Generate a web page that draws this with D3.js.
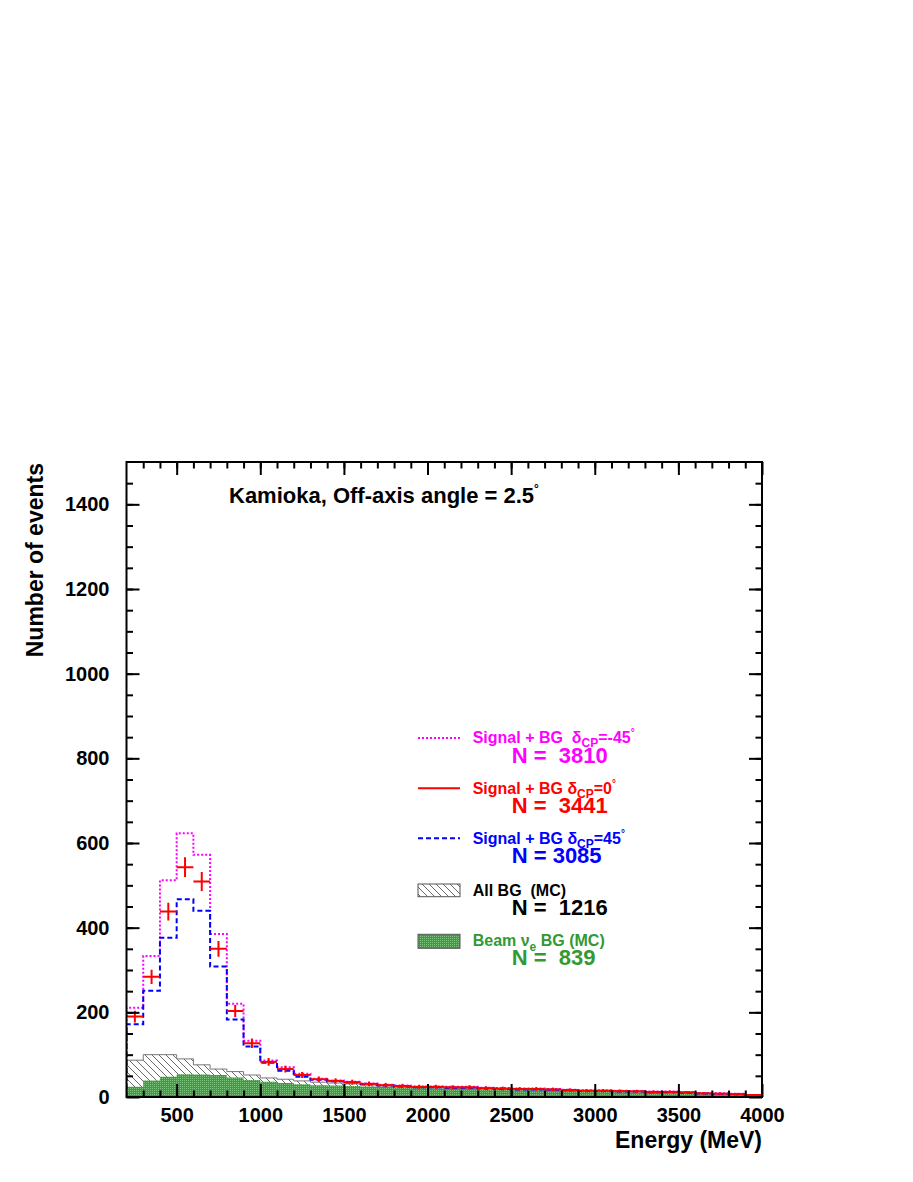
<!DOCTYPE html>
<html><head><meta charset="utf-8">
<script src="https://cdn.jsdelivr.net/npm/d3@7"></script>
<style>
body{margin:0;background:#fff}
text{font-family:"Liberation Sans",Arial,Helvetica,sans-serif;font-weight:bold;white-space:pre}
</style>
</head><body>
<svg id="c" width="913" height="1182"></svg>
<script>
// ---- data (bins of 100 MeV, low edges) ----
const binLow = [200,300,400,500,600,700,800,900,1000,1100,1200,1300,1400,1500,1600,1700,1800,1900,
  2000,2100,2200,2300,2400,2500,2600,2700,2800,2900,3000,3100,3200,3300,3400,3500,3600,3700,3800,3900];
const binWidth = 100;
const sigM45 = [211,333,512,623,572,385,220,133,86,70,55, 43,39,36,32,29,27,25, 25,24,24,22,21,20,20,19,17,16, 16,15,14,13,13,12,9.5,9,7.5,5];
const sigCP0 = [190,284,438,543,509,350,203,127,83,66,52, 42,38,35,31,28,26,24, 24,23,23,21,20,19,19,18,16.5,15, 15,14,13.5,12,12,11,8.7,8,7,4.7];
const sigP45 = [172,251,376,467,440,308,183,119,81,62,48, 41,37,34,30,27,25,23, 23,22,22,20,19,18,18,17,16,14, 14,13,13,11,11,10,8,7,6.5,4.5];
const allBG  = [87,100,100,90,76,66,60,52,45, 42,38,35,33,31,28,26,24,22, 21,20,20,19,18,17,17,16,15,14, 13,12,12,11,10,9,8,7,6,4];
const beamNueBG = [24,39,48,54,53,52,46,40,36, 33,30,28,27,26,25,24,23,22, 20,19,19,18,17,16,16,15,14,13, 12,12,11,10,9,8,7,6,5,3];
const xTickLabels = [500,1000,1500,2000,2500,3000,3500,4000];
const yTickLabels = [0,200,400,600,800,1000,1200,1400];
const legendTotals = ["3810","3441","3085","1216","839"];

// ---- layout ----
const L = 126.5, R = 762, T = 462, B = 1097;
const svg = d3.select("#c");
const x = d3.scaleLinear().domain([200,4000]).range([L,R]);
const y = d3.scaleLinear().domain([0,1500]).range([B,T]);

const defs = svg.append("defs");
const hp = defs.append("pattern").attr("id","hatch").attr("patternUnits","userSpaceOnUse")
  .attr("width",7).attr("height",7);
hp.append("path").attr("d","M0,0L7,7M-1,6L1,8M6,-1L8,1").attr("stroke","#444").attr("stroke-width",0.8);
const gp = defs.append("pattern").attr("id","green").attr("patternUnits","userSpaceOnUse")
  .attr("width",2).attr("height",2);
gp.append("rect").attr("width",2).attr("height",2).attr("fill","#3f9c3f");
gp.append("rect").attr("width",1).attr("height",1).attr("fill","#7cc47c");
defs.append("clipPath").attr("id","clip").append("rect")
  .attr("x",L).attr("y",T).attr("width",R-L).attr("height",B-T);

function stepPts(vals){
  const pts = [[binLow[0],0]];
  vals.forEach((v,i)=>{pts.push([binLow[i],v]);pts.push([binLow[i]+binWidth,v]);});
  pts.push([binLow[binLow.length-1]+binWidth,0]);
  return pts;
}
const line = d3.line().x(d=>x(d[0])).y(d=>y(d[1]));
const area = d3.area().x(d=>x(d[0])).y0(y(0)).y1(d=>y(d[1]));

const plot = svg.append("g").attr("clip-path","url(#clip)");
// All BG hatched
plot.append("path").attr("d",area(stepPts(allBG))).attr("fill","url(#hatch)");
plot.append("path").attr("d",line(stepPts(allBG))).attr("fill","none").attr("stroke","#777").attr("stroke-width",1);
// beam nue BG green
plot.append("path").attr("d",area(stepPts(beamNueBG))).attr("fill","url(#green)");
// signal + BG curves
plot.append("path").attr("d",line(stepPts(sigM45))).attr("fill","none")
  .attr("stroke","#ff00ff").attr("stroke-width",2).attr("stroke-dasharray","2,2");
plot.append("path").attr("d",line(stepPts(sigP45))).attr("fill","none")
  .attr("stroke","#0000ff").attr("stroke-width",2).attr("stroke-dasharray","5,3");
// red crosses
const eb = plot.append("g").attr("stroke","#ff0000").attr("stroke-width",2);
sigCP0.forEach((v,i)=>{
  eb.append("line").attr("x1",x(binLow[i])).attr("x2",x(binLow[i]+binWidth)).attr("y1",y(v)).attr("y2",y(v));
  eb.append("line").attr("x1",x(binLow[i]+binWidth/2)).attr("x2",x(binLow[i]+binWidth/2))
    .attr("y1",y(v-Math.sqrt(v))).attr("y2",y(v+Math.sqrt(v)));
});

// ---- axes ----
const minorX = binLow.slice(1);
const minorY = d3.range(50,1500,50);
function styleAxis(g){g.select(".domain").remove();g.selectAll("line").attr("stroke","#000").attr("stroke-width",2);}
svg.append("g").attr("transform",`translate(0,${B})`)
  .call(d3.axisBottom(x).tickValues(minorX).tickSize(-6.5).tickFormat("")).call(styleAxis);
svg.append("g").attr("transform",`translate(0,${B})`)
  .call(d3.axisBottom(x).tickValues(xTickLabels).tickSize(-13).tickPadding(10.5).tickFormat(d3.format("d")))
  .call(styleAxis).selectAll("text").attr("font-size",20).attr("fill","#000")
  .style("font-family",'"Liberation Sans",Arial,sans-serif').style("font-weight","bold");
svg.append("g").attr("transform",`translate(0,${T})`)
  .call(d3.axisTop(x).tickValues(minorX).tickSize(-6.5).tickFormat("")).call(styleAxis);
svg.append("g").attr("transform",`translate(0,${T})`)
  .call(d3.axisTop(x).tickValues(xTickLabels).tickSize(-13).tickFormat("")).call(styleAxis);
svg.append("g").attr("transform",`translate(${L},0)`)
  .call(d3.axisLeft(y).tickValues(minorY).tickSize(-6.5).tickFormat("")).call(styleAxis);
svg.append("g").attr("transform",`translate(${L},0)`)
  .call(d3.axisLeft(y).tickValues(yTickLabels).tickSize(-13).tickPadding(17).tickFormat(d3.format("d")))
  .call(styleAxis).selectAll("text").attr("font-size",20).attr("fill","#000")
  .style("font-family",'"Liberation Sans",Arial,sans-serif').style("font-weight","bold");
svg.append("g").attr("transform",`translate(${R},0)`)
  .call(d3.axisRight(y).tickValues(minorY).tickSize(-6.5).tickFormat("")).call(styleAxis);
svg.append("g").attr("transform",`translate(${R},0)`)
  .call(d3.axisRight(y).tickValues(yTickLabels).tickSize(-13).tickFormat("")).call(styleAxis);
svg.append("rect").attr("x",L).attr("y",T).attr("width",R-L).attr("height",B-T)
  .attr("fill","none").attr("stroke","#000").attr("stroke-width",2);

// ---- titles ----
svg.append("text").attr("x",R).attr("y",1148).attr("text-anchor","end").attr("font-size",23).text("Energy (MeV)");
svg.append("text").attr("transform","translate(43,463) rotate(-90)").attr("text-anchor","end")
  .attr("font-size",23).text("Number of events");
const tt = svg.append("text").attr("x",229).attr("y",502.5).attr("font-size",22);
tt.append("tspan").text("Kamioka, Off-axis angle = 2.5");
tt.append("tspan").attr("font-size",12).attr("dy",-10).text("°");

// ---- legend ----
const LX0 = 418, LX1 = 460, TX = 472.7, NX = 511.7;
function deltaText(yb, color, pre, val){
  const t = svg.append("text").attr("x",TX).attr("y",yb).attr("font-size",16).attr("fill",color);
  t.append("tspan").text(pre);
  t.append("tspan").attr("font-size",12).attr("dy",3.5).text("CP");
  t.append("tspan").attr("dy",-3.5).text(val);
  t.append("tspan").attr("font-size",10).attr("dy",-7).text("°");
}
function nText(yb,color,s){
  svg.append("text").attr("x",NX).attr("y",yb).attr("font-size",22).attr("fill",color).text(s);
}
svg.append("line").attr("x1",LX0).attr("x2",LX1).attr("y1",738).attr("y2",738)
  .attr("stroke","#ff00ff").attr("stroke-width",2).attr("stroke-dasharray","2,2");
deltaText(743.3,"#ff00ff","Signal + BG  δ","=-45");
nText(763.3,"#ff00ff","N =  "+legendTotals[0]);

svg.append("line").attr("x1",LX0).attr("x2",LX1).attr("y1",788.3).attr("y2",788.3)
  .attr("stroke","#ff0000").attr("stroke-width",2);
deltaText(794,"#ff0000","Signal + BG δ","=0");
nText(813.3,"#ff0000","N =  "+legendTotals[1]);

svg.append("line").attr("x1",LX0).attr("x2",LX1).attr("y1",838.3).attr("y2",838.3)
  .attr("stroke","#0000ff").attr("stroke-width",2).attr("stroke-dasharray","5,3");
deltaText(844,"#0000ff","Signal + BG δ","=45");
nText(863.3,"#0000ff","N = "+legendTotals[2]);

svg.append("rect").attr("x",LX0).attr("y",884).attr("width",LX1-LX0).attr("height",12.7)
  .attr("fill","url(#hatch)").attr("stroke","#555").attr("stroke-width",1);
svg.append("text").attr("x",TX).attr("y",895.7).attr("font-size",16).attr("fill","#000").text("All BG  (MC)");
nText(915,"#000","N =  "+legendTotals[3]);

svg.append("rect").attr("x",LX0).attr("y",934.3).attr("width",LX1-LX0).attr("height",14)
  .attr("fill","url(#green)").attr("stroke","#555").attr("stroke-width",1);
const bt = svg.append("text").attr("x",TX).attr("y",945.7).attr("font-size",16).attr("fill","#339933");
bt.append("tspan").text("Beam ν");
bt.append("tspan").attr("font-size",12).attr("dy",5).text("e");
bt.append("tspan").attr("dy",-5).text(" BG (MC)");
nText(965,"#339933","N =  "+legendTotals[4]);
</script>
</body></html>
